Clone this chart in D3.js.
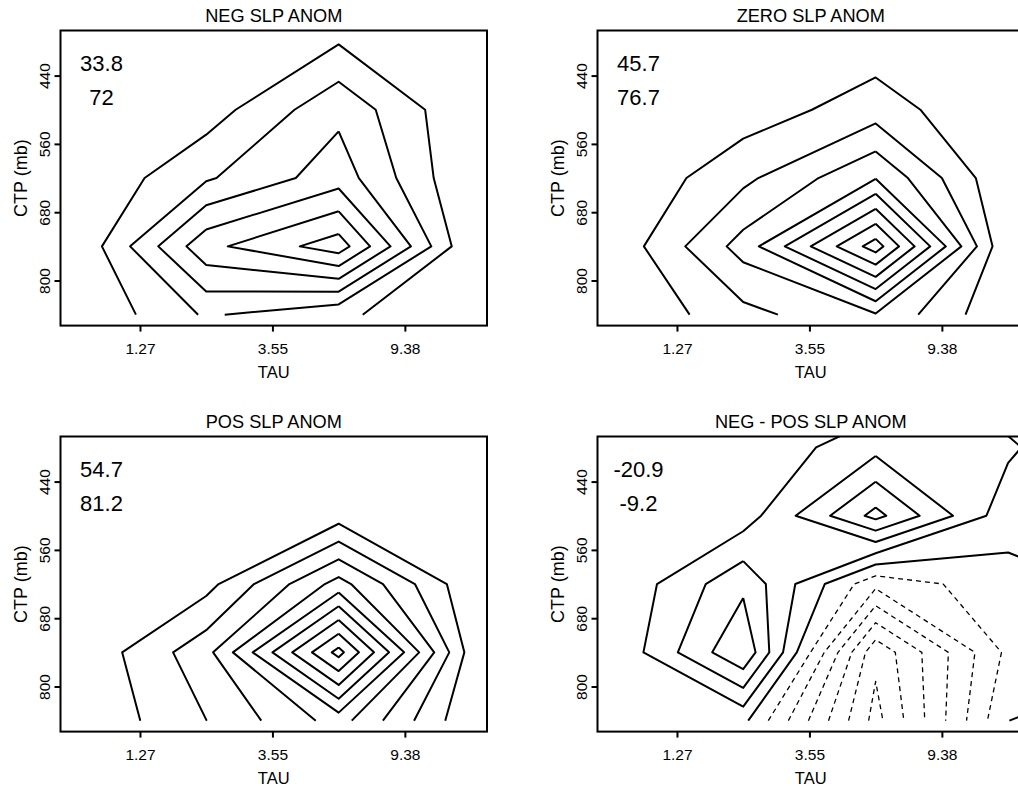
<!DOCTYPE html>
<html>
<head>
<meta charset="utf-8">
<script src="https://cdn.jsdelivr.net/npm/d3@7"></script>
<style>
  body { margin: 0; background: #fff; }
  svg { display: block; }
  text { font-family: "Liberation Sans", Arial, Helvetica, sans-serif; fill: #000; }
</style>
</head>
<body>
<svg id="chart" width="1018" height="793"></svg>
<script>
// Joint histograms of cloud-top pressure (rows) against optical depth (columns).
// Column index 0..3 are the tau bins, row index 0..4 the CTP bins (top = low pressure).
const tauTicks = ["1.27", "3.55", "9.38"];          // tau bin boundaries
const ctpTicks = ["440", "560", "680", "800"];      // CTP bin boundaries (mb)

const panelTitles = ["NEG SLP ANOM", "ZERO SLP ANOM", "POS SLP ANOM", "NEG - POS SLP ANOM"];
const statsUpper = ["33.8", "45.7", "54.7", "-20.9"];
const statsLower = ["72", "76.7", "81.2", "-9.2"];

// Frequencies per bin (%), rows 0..4, columns 0..3
const negGrid = [
  [0.00, 0.20, 0.92, 0.05],
  [0.00, 0.50, 2.75, 0.07],
  [0.00, 1.87, 3.54, 0.00],
  [0.00, 4.70, 6.54, 0.05],
  [0.00, 2.13, 1.20, 0.10]
];
const zeroGrid = [
  [0.00, 0.10, 0.43, 0.00],
  [0.00, 0.45, 1.51, 0.00],
  [0.00, 1.75, 3.95, 0.05],
  [0.20, 3.40, 8.50, 0.00],
  [0.00, 1.68, 2.90, 0.10]
];
const posGrid = [
  [0.00, 0.10, 0.20, 0.10],
  [0.00, 0.30, 0.55, 0.20],
  [0.00, 0.65, 4.39, 0.24],
  [0.05, 2.65, 9.35, 0.55],
  [0.00, 1.99, 4.42, 0.17]
];
// Difference field; includes the bin row above (row -1) and the bin column to the right (col 4)
const diffGrid = [
  [0.05, 0.10,  0.04,  0.05,  0.10],
  [0.05, 0.18,  1.67,  1.19, -0.70],
  [0.05, 0.48,  4.32,  0.35,  0.60],
  [0.05, 2.77, -1.73, -0.30,  0.20],
  [0.05, 3.90, -5.74, -0.75, -0.30],
  [0.10, 0.25, -6.35, -0.01,  1.00]
];
const diffFirstRow = -1;

const negLevels  = [1, 2, 3, 4, 5, 6];
const zeroLevels = [1, 2, 3, 4, 5, 6, 7, 8];
const posLevels  = [1, 2, 3, 4, 5, 6, 7, 8, 9];
const diffLevels = [-6, -5, -4, -3, -2, -1, 0, 1, 2, 3, 4];

const panels = [
  { grid: negGrid,  firstRow: 0, levels: negLevels,  dx: 0,   dy: 0 },
  { grid: zeroGrid, firstRow: 0, levels: zeroLevels, dx: 537, dy: 0 },
  { grid: posGrid,  firstRow: 0, levels: posLevels,  dx: 0,   dy: 406 },
  { grid: diffGrid, firstRow: diffFirstRow, levels: diffLevels, dx: 537, dy: 406 }
];

const svg = d3.select("#chart");
const frame = { left: 60.5, right: 487, top: 30.5, bottom: 325.6 };

// Marching squares with linear interpolation along cell edges; saddles are
// resolved with the cell-centre mean. Returns polylines in grid index units
// (x = column, y = row), open where they meet the edge of the grid.
function isolines(grid, level) {
  const ny = grid.length, nx = grid[0].length;
  const pts = {};
  const segs = [];
  const cross = (key, x0, y0, x1, y1, v0, v1) => {
    if (!pts[key]) {
      const t = (level - v0) / (v1 - v0);
      pts[key] = [x0 + t * (x1 - x0), y0 + t * (y1 - y0)];
    }
    return key;
  };
  for (let j = 0; j < ny - 1; j++) {
    for (let i = 0; i < nx - 1; i++) {
      const a = grid[j][i], b = grid[j][i + 1], c = grid[j + 1][i + 1], d = grid[j + 1][i];
      const A = a >= level, B = b >= level, C = c >= level, D = d >= level;
      const top    = A !== B ? cross(`h${j}_${i}`, i, j, i + 1, j, a, b) : null;
      const right  = B !== C ? cross(`v${j}_${i + 1}`, i + 1, j, i + 1, j + 1, b, c) : null;
      const bottom = D !== C ? cross(`h${j + 1}_${i}`, i, j + 1, i + 1, j + 1, d, c) : null;
      const left   = A !== D ? cross(`v${j}_${i}`, i, j, i, j + 1, a, d) : null;
      const e = [top, right, bottom, left].filter(k => k);
      if (e.length === 2) {
        segs.push(e);
      } else if (e.length === 4) {
        const centre = (a + b + c + d) / 4 >= level;
        if (centre === A) { segs.push([top, right]); segs.push([bottom, left]); }
        else { segs.push([top, left]); segs.push([right, bottom]); }
      }
    }
  }
  const adj = {};
  segs.forEach((s, k) => s.forEach(key => (adj[key] = adj[key] || []).push(k)));
  const used = segs.map(() => false);
  const walk = (startKey, k0) => {
    const keys = [startKey];
    let key = startKey, k = k0;
    while (k !== undefined && !used[k]) {
      used[k] = true;
      const s = segs[k];
      key = s[0] === key ? s[1] : s[0];
      keys.push(key);
      k = adj[key].find(m => !used[m]);
    }
    return keys.map(kk => pts[kk]);
  };
  const lines = [];
  Object.keys(adj).forEach(key => {
    if (adj[key].length === 1 && !used[adj[key][0]]) lines.push(walk(key, adj[key][0]));
  });
  segs.forEach((s, k) => { if (!used[k]) lines.push(walk(s[0], k)); });
  return lines;
}

panels.forEach((pn, i) => {
  const g = svg.append("g").attr("transform", `translate(${pn.dx},${pn.dy})`);
  const x = d3.scaleLinear().domain([-0.1, 3.12]).range([frame.left, frame.right]);
  const y = d3.scaleLinear().domain([-0.16, 4.16]).range([frame.top, frame.bottom]);

  const clipId = `clip${i}`;
  g.append("clipPath").attr("id", clipId).append("rect")
    .attr("x", frame.left).attr("y", frame.top)
    .attr("width", frame.right - frame.left).attr("height", frame.bottom - frame.top);

  const line = d3.line()
    .x(p => x(p[0]))
    .y(p => y(p[1] + pn.firstRow));

  const layer = g.append("g").attr("clip-path", `url(#${clipId})`)
    .attr("fill", "none").attr("stroke", "#000").attr("stroke-linejoin", "round");

  pn.levels.forEach(level => {
    const neg = level < 0;
    isolines(pn.grid, level).forEach(pl => {
      layer.append("path")
        .attr("d", line(pl))
        .attr("stroke-width", neg ? 1.3 : 2)
        .attr("stroke-dasharray", neg ? "5,4" : null);
    });
  });

  // frame
  g.append("rect")
    .attr("x", frame.left).attr("y", frame.top)
    .attr("width", frame.right - frame.left).attr("height", frame.bottom - frame.top)
    .attr("fill", "none").attr("stroke", "#000").attr("stroke-width", 2);

  // TAU axis
  const xAxis = g.append("g").attr("transform", `translate(0,${frame.bottom})`)
    .call(d3.axisBottom(x).tickValues([0.5, 1.5, 2.5])
      .tickFormat((d, j) => tauTicks[j]).tickSize(6).tickSizeOuter(0));
  xAxis.select(".domain").remove();
  xAxis.selectAll(".tick line").attr("stroke-width", 2);
  xAxis.selectAll(".tick text")
    .attr("y", 28.5).attr("dy", null)
    .style("font-size", "15.5px");

  // CTP axis
  const yAxis = g.append("g").attr("transform", `translate(${frame.left},0)`)
    .call(d3.axisLeft(y).tickValues([0.5, 1.5, 2.5, 3.5])
      .tickFormat((d, j) => ctpTicks[j]).tickSize(6).tickSizeOuter(0));
  yAxis.select(".domain").remove();
  yAxis.selectAll(".tick line").attr("stroke-width", 2);
  yAxis.selectAll(".tick text")
    .attr("x", 0).attr("y", -10.5).attr("dy", null)
    .attr("transform", "rotate(-90)")
    .attr("text-anchor", "middle")
    .style("font-size", "15.5px");

  const cx = (frame.left + frame.right) / 2;
  g.append("text").attr("x", cx).attr("y", 21.5)
    .attr("text-anchor", "middle").style("font-size", "18.2px").text(panelTitles[i]);
  g.append("text").attr("x", cx).attr("y", 378)
    .attr("text-anchor", "middle").style("font-size", "16.5px").text("TAU");
  g.append("text")
    .attr("transform", `translate(26.5,${(frame.top + frame.bottom) / 2}) rotate(-90)`)
    .attr("text-anchor", "middle").style("font-size", "18px").text("CTP (mb)");

  g.append("text").attr("x", 101.5).attr("y", 70.7)
    .attr("text-anchor", "middle").style("font-size", "22px").text(statsUpper[i]);
  g.append("text").attr("x", 101.5).attr("y", 104.8)
    .attr("text-anchor", "middle").style("font-size", "22px").text(statsLower[i]);
});
</script>
</body>
</html>
